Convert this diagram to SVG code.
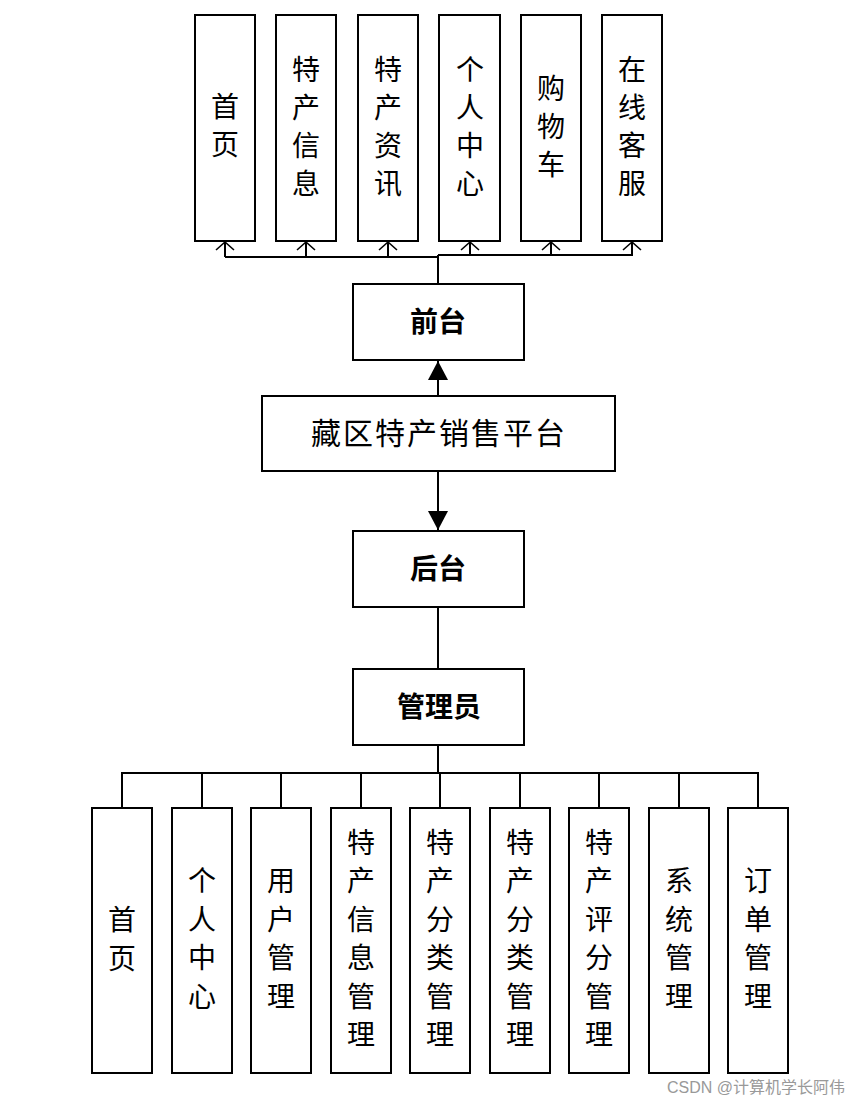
<svg xmlns="http://www.w3.org/2000/svg" width="850" height="1103" viewBox="0 0 850 1103">
<defs>
<style>
.box{fill:#fff;stroke:#000;stroke-width:2}
.t{font-family:"Noto Sans CJK SC","Noto Sans",sans-serif;font-size:28px;fill:#000;text-anchor:middle}
.b{font-weight:bold;font-size:28px}
.ln{fill:none;stroke:#000;stroke-width:2}
.wm{font-family:"Liberation Sans","Noto Sans CJK SC",sans-serif;font-size:16px;fill:#999;text-anchor:end}
</style>
<marker id="open" markerWidth="12" markerHeight="22" refX="9" refY="10" orient="auto" markerUnits="userSpaceOnUse">
<path d="M1,1 L9,10 L1,19" fill="none" stroke="#000" stroke-width="1.6"/>
</marker>
<marker id="fill" markerWidth="20" markerHeight="20" refX="19" refY="10" orient="auto" markerUnits="userSpaceOnUse">
<path d="M0,0 L19,10 L0,20 Z" fill="#000"/>
</marker>
</defs>
<rect width="850" height="1103" fill="#fff"/>

<g id="connectors">
<path class="ln" d="M438,284 V255" />
<path class="ln" d="M438,257 H225" />
<path class="ln" d="M438,255 H633" />
<path class="ln" d="M225,257 V242" marker-end="url(#open)"/>
<path class="ln" d="M306,257 V242" marker-end="url(#open)"/>
<path class="ln" d="M388,257 V242" marker-end="url(#open)"/>
<path class="ln" d="M470,255 V242" marker-end="url(#open)"/>
<path class="ln" d="M551,255 V242" marker-end="url(#open)"/>
<path class="ln" d="M632,255 V242" marker-end="url(#open)"/>
<path class="ln" d="M438,396 V361" marker-end="url(#fill)"/>
<path class="ln" d="M438,471 V530" marker-end="url(#fill)"/>
<path class="ln" d="M438,607 V669" />
<path class="ln" d="M438,745 V773" />
<path class="ln" d="M122,808 V773 H758 V808" />
<path class="ln" d="M202,773 V808 M281,773 V808 M361,773 V808 M440,773 V808 M520,773 V808 M599,773 V808 M679,773 V808" />
</g>

<g id="top-home"><rect class="box" x="195" y="15" width="60" height="226"/>
<text class="t" x="225" y="117">首</text><text class="t" x="225" y="155">页</text></g>
<g id="top-info"><rect class="box" x="276" y="15" width="60" height="226"/>
<text class="t" x="306" y="80">特</text><text class="t" x="306" y="118">产</text><text class="t" x="306" y="156">信</text><text class="t" x="306" y="194">息</text></g>
<g id="top-news"><rect class="box" x="358" y="15" width="60" height="226"/>
<text class="t" x="388" y="80">特</text><text class="t" x="388" y="118">产</text><text class="t" x="388" y="156">资</text><text class="t" x="388" y="194">讯</text></g>
<g id="top-user"><rect class="box" x="439" y="15" width="61" height="226"/>
<text class="t" x="470" y="80">个</text><text class="t" x="470" y="118">人</text><text class="t" x="470" y="156">中</text><text class="t" x="470" y="194">心</text></g>
<g id="top-cart"><rect class="box" x="521" y="15" width="60" height="226"/>
<text class="t" x="551" y="99">购</text><text class="t" x="551" y="137">物</text><text class="t" x="551" y="175">车</text></g>
<g id="top-service"><rect class="box" x="602" y="15" width="60" height="226"/>
<text class="t" x="632" y="80">在</text><text class="t" x="632" y="118">线</text><text class="t" x="632" y="156">客</text><text class="t" x="632" y="194">服</text></g>

<g id="frontend"><rect class="box" x="353" y="284" width="171" height="76"/>
<text class="t b" x="438" y="332">前台</text></g>
<g id="platform"><rect class="box" x="262" y="396" width="353" height="75"/>
<text class="t" x="439" y="444" style="font-size:30px;letter-spacing:2px">藏区特产销售平台</text></g>
<g id="backend"><rect class="box" x="353" y="531" width="171" height="76"/>
<text class="t b" x="438" y="579">后台</text></g>
<g id="admin"><rect class="box" x="353" y="669" width="171" height="76"/>
<text class="t b" x="439" y="717">管理员</text></g>

<g id="b-home"><rect class="box" x="92" y="808" width="60" height="265"/>
<text class="t" x="122" y="930">首</text><text class="t" x="122" y="969">页</text></g>
<g id="b-user"><rect class="box" x="172" y="808" width="60" height="265"/>
<text class="t" x="202" y="891">个</text><text class="t" x="202" y="930">人</text><text class="t" x="202" y="968">中</text><text class="t" x="202" y="1007">心</text></g>
<g id="b-usermgmt"><rect class="box" x="251" y="808" width="60" height="265"/>
<text class="t" x="281" y="891">用</text><text class="t" x="281" y="930">户</text><text class="t" x="281" y="968">管</text><text class="t" x="281" y="1007">理</text></g>
<g id="b-info"><rect class="box" x="331" y="808" width="60" height="265"/>
<text class="t" x="361" y="853">特</text><text class="t" x="361" y="891">产</text><text class="t" x="361" y="930">信</text><text class="t" x="361" y="968">息</text><text class="t" x="361" y="1007">管</text><text class="t" x="361" y="1045">理</text></g>
<g id="b-cat1"><rect class="box" x="410" y="808" width="60" height="265"/>
<text class="t" x="440" y="853">特</text><text class="t" x="440" y="891">产</text><text class="t" x="440" y="930">分</text><text class="t" x="440" y="968">类</text><text class="t" x="440" y="1007">管</text><text class="t" x="440" y="1045">理</text></g>
<g id="b-cat2"><rect class="box" x="490" y="808" width="60" height="265"/>
<text class="t" x="520" y="853">特</text><text class="t" x="520" y="891">产</text><text class="t" x="520" y="930">分</text><text class="t" x="520" y="968">类</text><text class="t" x="520" y="1007">管</text><text class="t" x="520" y="1045">理</text></g>
<g id="b-rating"><rect class="box" x="569" y="808" width="60" height="265"/>
<text class="t" x="599" y="853">特</text><text class="t" x="599" y="891">产</text><text class="t" x="599" y="930">评</text><text class="t" x="599" y="968">分</text><text class="t" x="599" y="1007">管</text><text class="t" x="599" y="1045">理</text></g>
<g id="b-system"><rect class="box" x="649" y="808" width="60" height="265"/>
<text class="t" x="679" y="891">系</text><text class="t" x="679" y="930">统</text><text class="t" x="679" y="968">管</text><text class="t" x="679" y="1007">理</text></g>
<g id="b-order"><rect class="box" x="728" y="808" width="60" height="265"/>
<text class="t" x="758" y="891">订</text><text class="t" x="758" y="930">单</text><text class="t" x="758" y="968">管</text><text class="t" x="758" y="1007">理</text></g>

<text class="wm" x="845" y="1093">CSDN @计算机学长阿伟</text>
</svg>
